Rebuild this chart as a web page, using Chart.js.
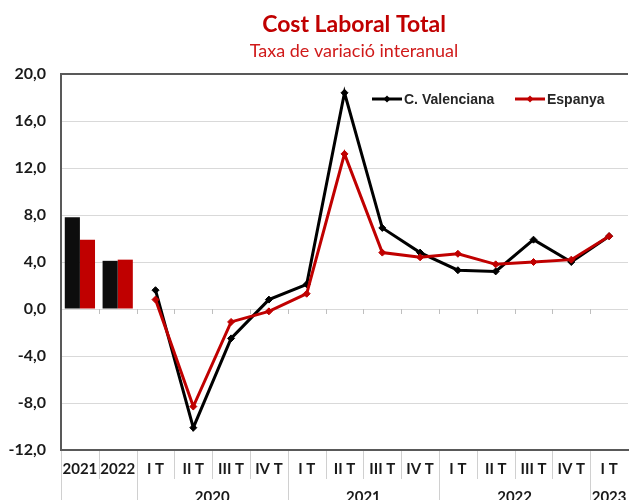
<!DOCTYPE html>
<html>
<head>
<meta charset="utf-8">
<script src="https://cdn.jsdelivr.net/npm/chart.js@4.4.1/dist/chart.umd.min.js"></script>
<style>
  html, body { margin: 0; padding: 0; background: #ffffff; overflow: hidden; }
  #wrap { width: 633px; height: 500px; position: relative; }
</style>
</head>
<body>
<div id="wrap"><canvas id="c" width="633" height="500"></canvas></div>
<script>
// ---- Data ----
const categories = ['2021', '2022', 'I T', 'II T', 'III T', 'IV T', 'I T', 'II T', 'III T', 'IV T', 'I T', 'II T', 'III T', 'IV T', 'I T'];
const yearGroupLabels = ['2020', '2021', '2022', '2023'];
const yearGroupFirst = [2, 6, 10, 14];
const yearGroupLast = [5, 9, 13, 14];
const annualCV = [7.8, 4.1];
const annualES = [5.9, 4.2];
const quarterlyCV = [1.6, -10.1, -2.5, 0.8, 2.1, 18.4, 6.9, 4.8, 3.3, 3.2, 5.9, 4.0, 6.2];
const quarterlyES = [0.8, -8.3, -1.1, -0.2, 1.3, 13.2, 4.8, 4.4, 4.7, 3.8, 4.0, 4.2, 6.2];
const seriesNames = ['C. Valenciana', 'Espanya'];
const titleText = 'Cost Laboral Total';
const subtitleText = 'Taxa de variació interanual';
const yMin = -12, yMax = 20, yStep = 4;

const BLACK = '#000000';
const RED = '#c00000';

const nQ = categories.length - annualCV.length;
const barCV = annualCV.concat(new Array(nQ).fill(null));
const barES = annualES.concat(new Array(nQ).fill(null));
const lineCV = new Array(annualCV.length).fill(null).concat(quarterlyCV);
const lineES = new Array(annualES.length).fill(null).concat(quarterlyES);

const decor = {
  id: 'decor',
  beforeDatasetsDraw(chart) {
    const ctx = chart.ctx, x = chart.scales.x, y = chart.scales.y;
    const y0 = y.getPixelForValue(0);
    ctx.save();
    ctx.strokeStyle = '#bfbfbf';
    ctx.lineWidth = 1;
    for (let i = 0; i < categories.length - 1; i++) {
      const xb = Math.round((x.getPixelForValue(i) + x.getPixelForValue(i + 1)) / 2) + 0.5;
      ctx.beginPath(); ctx.moveTo(xb, y0); ctx.lineTo(xb, y0 + 5); ctx.stroke();
    }
    ctx.restore();
  },
  afterDraw(chart) {
    const ctx = chart.ctx, x = chart.scales.x, ca = chart.chartArea;
    ctx.save();
    // Title & subtitle
    ctx.textAlign = 'center';
    ctx.textBaseline = 'alphabetic';
    ctx.fillStyle = RED;
    ctx.font = 'bold 23px Lato';
    ctx.fillText(titleText, 354, 32);
    ctx.fillStyle = '#d01a1a';
    ctx.font = '18px Lato';
    ctx.fillText(subtitleText, 354, 57);

    // separators under the category axis
    const half = (x.getPixelForValue(1) - x.getPixelForValue(0)) / 2;
    const bottom = ca.bottom;
    const groupStarts = new Set(yearGroupFirst);
    ctx.strokeStyle = '#d0d0d0';
    ctx.lineWidth = 1;
    for (let i = 0; i < categories.length; i++) {
      const xb = Math.round(x.getPixelForValue(i) - half) + 0.5;
      const long = (i === 0) || groupStarts.has(i);
      ctx.beginPath(); ctx.moveTo(xb, bottom + 1); ctx.lineTo(xb, long ? 500 : 479); ctx.stroke();
    }
    // year group labels
    ctx.fillStyle = '#1a1a1a';
    ctx.font = 'bold 15px Lato';
    ctx.textBaseline = 'alphabetic';
    for (let g = 0; g < yearGroupLabels.length; g++) {
      const l = x.getPixelForValue(yearGroupFirst[g]) - half;
      const r = x.getPixelForValue(yearGroupLast[g]) + half;
      ctx.fillText(yearGroupLabels[g], (l + r) / 2, 502);
    }

    // legend
    const items = [
      { name: seriesNames[0], color: BLACK, x0: 372 },
      { name: seriesNames[1], color: RED, x0: 515 }
    ];
    const ly = 99;
    ctx.font = 'bold 14px "Liberation Sans"';
    ctx.textAlign = 'left';
    ctx.textBaseline = 'middle';
    items.forEach(it => {
      ctx.strokeStyle = it.color;
      ctx.lineWidth = 3;
      ctx.beginPath(); ctx.moveTo(it.x0, ly); ctx.lineTo(it.x0 + 30, ly); ctx.stroke();
      ctx.fillStyle = it.color;
      const cx = it.x0 + 15, s = 3.5;
      ctx.beginPath(); ctx.moveTo(cx, ly - s); ctx.lineTo(cx + s, ly); ctx.lineTo(cx, ly + s); ctx.lineTo(cx - s, ly); ctx.closePath(); ctx.fill();
      ctx.fillStyle = '#262626';
      ctx.fillText(it.name, it.x0 + 32, ly + 1);
    });
    ctx.restore();
  }
};

new Chart(document.getElementById('c'), {
  data: {
    labels: categories,
    datasets: [
      { type: 'line', label: seriesNames[1], data: lineES, borderColor: RED, backgroundColor: RED,
        borderWidth: 3, pointStyle: 'rectRot', pointRadius: 3.5, pointBorderWidth: 1,
        pointBackgroundColor: RED, pointBorderColor: RED, order: 0, tension: 0 },
      { type: 'line', label: seriesNames[0], data: lineCV, borderColor: BLACK, backgroundColor: BLACK,
        borderWidth: 3, pointStyle: 'rectRot', pointRadius: 3.5, pointBorderWidth: 1,
        pointBackgroundColor: BLACK, pointBorderColor: BLACK, order: 1, tension: 0 },
      { type: 'bar', label: seriesNames[0], data: barCV, backgroundColor: '#0d0d0d', borderWidth: 0,
        categoryPercentage: 0.8, barPercentage: 1.0, order: 2 },
      { type: 'bar', label: seriesNames[1], data: barES, backgroundColor: RED, borderWidth: 0,
        categoryPercentage: 0.8, barPercentage: 1.0, order: 2 }
    ]
  },
  options: {
    responsive: false,
    animation: false,
    layout: { padding: { top: 74, left: 0, right: 0, bottom: 0 } },
    plugins: { legend: { display: false }, tooltip: { enabled: false }, title: { display: false } },
    scales: {
      x: {
        type: 'category',
        grid: { display: false, drawTicks: false },
        border: { display: true, color: '#595959', width: 2 },
        ticks: { color: '#1a1a1a', font: { family: 'Lato', weight: 'bold', size: 15 }, padding: 10,
                 maxRotation: 0, autoSkip: false },
        afterFit: s => { s.height = 50; }
      },
      y: {
        min: yMin, max: yMax,
        ticks: { stepSize: yStep, color: '#1a1a1a', font: { family: 'Lato', weight: 'bold', size: 16 }, padding: 15,
                 callback: v => v.toFixed(1).replace('.', ',') },
        grid: {
          drawTicks: false,
          color: c => (c.tick && (c.tick.value === yMax || c.tick.value === yMin)) ? '#595959' : '#d9d9d9',
          lineWidth: c => (c.tick && (c.tick.value === yMax || c.tick.value === yMin)) ? 2 : 1
        },
        border: { display: true, color: '#595959', width: 2 },
        afterFit: s => { s.width = 61; }
      }
    }
  },
  plugins: [decor]
});
</script>
</body>
</html>
